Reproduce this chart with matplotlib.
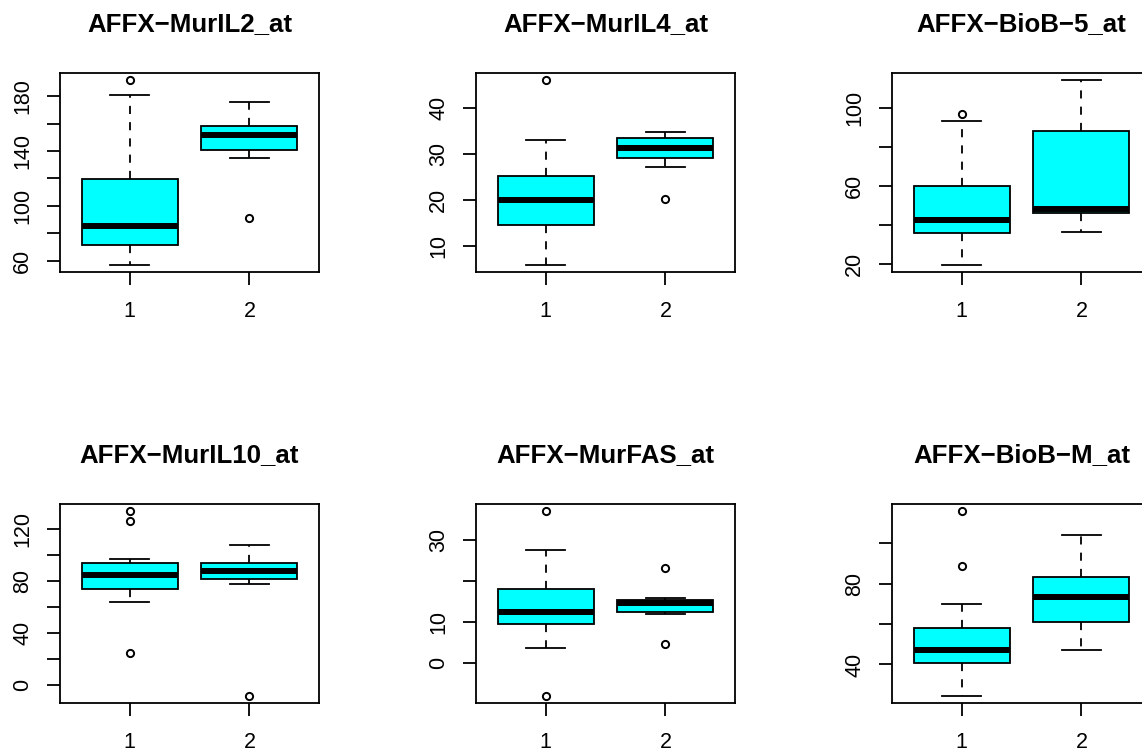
import matplotlib
matplotlib.use("Agg")
import matplotlib.pyplot as plt

plt.rcParams['font.family'] = ['Liberation Sans', 'DejaVu Sans']

# Panel titles (probe set names)
titles = ["AFFX−MurIL2_at", "AFFX−MurIL4_at", "AFFX−BioB−5_at",
          "AFFX−MurIL10_at", "AFFX−MurFAS_at", "AFFX−BioB−M_at"]
groups = ["1", "2"]

# Box statistics: one [group1, group2] pair per panel
whislo = [[57.0, 134.8], [5.9, 27.0], [19.6, 36.3],
          [64.0, 77.7], [3.6, 11.8], [24.6, 47.3]]
q1 = [[71.4, 140.5], [14.6, 29.0], [35.7, 46.2],
      [73.6, 81.3], [9.55, 12.4], [40.6, 60.8]]
med = [[85.6, 151.5], [19.85, 31.2], [42.6, 48.3],
       [84.4, 87.5], [12.4, 14.6], [47.3, 73.4]]
q3 = [[119.5, 158.0], [25.1, 33.3], [59.9, 88.4],
      [93.7, 94.2], [18.1, 15.25], [58.0, 83.1]]
whishi = [[181.0, 175.6], [32.9, 34.6], [93.5, 114.2],
          [97.3, 107.6], [27.4, 15.9], [69.9, 104.1]]
fliers = [[[191.7], [91.0]],
          [[45.9], [20.2]],
          [[97.1], []],
          [[133.7, 126.0, 24.6], [-8.5]],
          [[36.9, -8.0], [23.1, 4.5]],
          [[115.7, 88.9], []]]

# y axis ticks and which of them carry a label
yticks = [[60, 80, 100, 120, 140, 160, 180],
          [10, 20, 30, 40],
          [20, 40, 60, 80, 100],
          [0, 20, 40, 60, 80, 100, 120],
          [0, 10, 20, 30],
          [40, 60, 80, 100]]
ylabeled = [[60, 100, 140, 180],
            [10, 20, 30, 40],
            [20, 60, 100],
            [0, 40, 80, 120],
            [0, 10, 30],
            [40, 80]]

W, H = 1142, 751
fig = plt.figure(figsize=(W / 100, H / 100), dpi=100)

lefts = [60, 476, 892]
tops = [73, 504]
aw, ah = 259, 199

for i in range(6):
    r, c = divmod(i, 3)
    ax = fig.add_axes([lefts[c] / W, 1 - (tops[r] + ah) / H, aw / W, ah / H])

    stats = []
    for g in range(2):
        stats.append(dict(label=groups[g], whislo=whislo[i][g], q1=q1[i][g],
                          med=med[i][g], q3=q3[i][g], whishi=whishi[i][g],
                          fliers=fliers[i][g]))

    ax.bxp(stats, widths=0.8, capwidths=0.32, patch_artist=True,
           boxprops=dict(facecolor='#00FFFF', edgecolor='black', linewidth=1.3),
           medianprops=dict(color='black', linewidth=4.3, solid_capstyle='butt'),
           whiskerprops=dict(color='black', linewidth=1.3, linestyle=(0, (4.5, 4.5))),
           capprops=dict(color='black', linewidth=1.3),
           flierprops=dict(marker='o', markerfacecolor='none', markeredgecolor='black',
                           markersize=5.2, markeredgewidth=1.4))

    allv = [v for g in range(2) for v in [whislo[i][g], whishi[i][g]] + fliers[i][g]]
    lo, hi = min(allv), max(allv)
    pad = 0.04 * (hi - lo)
    ax.set_ylim(lo - pad, hi + pad)
    ax.set_xlim(0.42, 2.58)

    ax.set_yticks(yticks[i])
    ax.set_yticklabels([str(t) if t in ylabeled[i] else "" for t in yticks[i]],
                       rotation=90, va='center')
    ax.tick_params(axis='both', direction='out', length=9.4, width=1.3,
                   labelsize=15.5, colors='black')
    ax.tick_params(axis='x', pad=11.5)
    ax.tick_params(axis='y', pad=10)
    for s in ax.spines.values():
        s.set_linewidth(1.3)
        s.set_color('black')

    ax.set_title(titles[i], fontsize=18.6, fontweight='bold', pad=30)

fig.savefig("out.png", dpi=100, facecolor='white')
